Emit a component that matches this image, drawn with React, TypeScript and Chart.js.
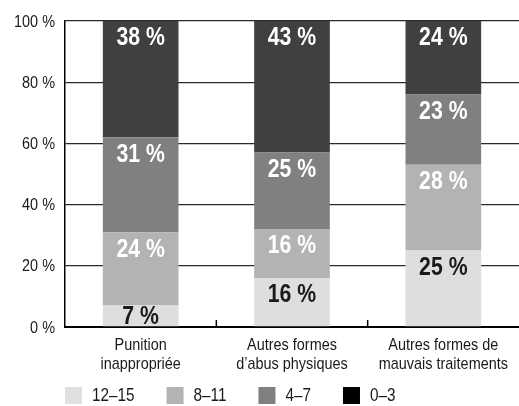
import React, { useEffect, useRef } from "react";
import { Chart, registerables } from "chart.js";

Chart.register(...registerables);

const categories: string[][] = [
  ["Punition", "inappropriée"],
  ["Autres formes", "d’abus physiques"],
  ["Autres formes de", "mauvais traitements"],
];
const seriesNames = ["12–15", "8–11", "4–7", "0–3"];
const age12to15 = [7, 16, 25];
const age8to11 = [24, 16, 28];
const age4to7 = [31, 25, 23];
const age0to3 = [38, 43, 24];
const yTicks = [0, 20, 40, 60, 80, 100];

const barColors = ["#dedede", "#b3b3b3", "#808080", "#404040"];
const legendColors = ["#e0e0e0", "#b3b3b3", "#808080", "#000000"];
const labelColors = ["#1a1a1a", "#ffffff", "#ffffff", "#ffffff"];
const FONT = "'Liberation Sans', Arial, sans-serif";
const SX = 0.85;

function drawText(ctx: CanvasRenderingContext2D, text: string, x: number, y: number, align: CanvasTextAlign) {
  ctx.save();
  ctx.translate(x, y);
  ctx.scale(SX, 1);
  ctx.textAlign = align;
  ctx.fillText(text, 0, 0);
  ctx.restore();
}

const decorPlugin = {
  id: "decor",
  afterDatasetsDraw(chart: any) {
    const ctx = chart.ctx;
    const area = chart.chartArea;
    const xScale = chart.scales.x;
    // data labels
    ctx.save();
    ctx.font = `bold 25px ${FONT}`;
    ctx.textBaseline = "middle";
    chart.data.datasets.forEach((ds: any, di: number) => {
      const meta = chart.getDatasetMeta(di);
      meta.data.forEach((el: any, i: number) => {
        const top = Math.min(el.y, el.base);
        const bottom = Math.max(el.y, el.base);
        const y = Math.min(top + 16.5, (top + bottom) / 2);
        ctx.fillStyle = labelColors[di];
        drawText(ctx, `${ds.data[i]} %`, el.x, y + 1, "center");
      });
    });
    ctx.restore();
    // category separator ticks
    ctx.save();
    ctx.strokeStyle = "#000";
    ctx.lineWidth = 1.5;
    for (let i = 0; i < categories.length - 1; i++) {
      const x = (xScale.getPixelForValue(i) + xScale.getPixelForValue(i + 1)) / 2;
      ctx.beginPath();
      ctx.moveTo(x, area.bottom);
      ctx.lineTo(x, area.bottom - 7);
      ctx.stroke();
    }
    ctx.restore();
  },
  afterDraw(chart: any) {
    const ctx = chart.ctx;
    const area = chart.chartArea;
    const xScale = chart.scales.x;
    const yScale = chart.scales.y;
    ctx.save();
    ctx.font = `17px ${FONT}`;
    ctx.textBaseline = "middle";
    ctx.fillStyle = "#1a1a1a";
    // y tick labels
    yTicks.forEach((v) => {
      drawText(ctx, `${v} %`, area.left - 10, yScale.getPixelForValue(v) + 1, "right");
    });
    // x category labels
    categories.forEach((lines, i) => {
      const x = xScale.getPixelForValue(i);
      lines.forEach((line, j) => {
        drawText(ctx, line, x, area.bottom + 18 + j * 19, "center");
      });
    });
    // legend
    ctx.font = `18px ${FONT}`;
    let x = area.left;
    const yc = 395;
    seriesNames.forEach((name, i) => {
      ctx.fillStyle = legendColors[i];
      ctx.fillRect(x, yc - 8, 17, 17);
      ctx.fillStyle = "#1a1a1a";
      const tx = x + 17 + 10;
      drawText(ctx, name, tx, yc + 1, "left");
      x = tx + ctx.measureText(name).width * SX + 32;
    });
    ctx.restore();
  },
};

export default function App() {
  const ref = useRef<HTMLCanvasElement | null>(null);
  useEffect(() => {
    if (!ref.current) return;
    const series = [age12to15, age8to11, age4to7, age0to3];
    const chart = new Chart(ref.current, {
      type: "bar",
      data: {
        labels: categories,
        datasets: series.map((d, i) => ({
          label: seriesNames[i],
          data: d,
          backgroundColor: barColors[i],
          borderWidth: 0,
          barPercentage: 0.5,
          categoryPercentage: 1,
        })),
      },
      options: {
        animation: false,
        responsive: false,
        maintainAspectRatio: false,
        layout: { padding: { top: 21, right: 0, left: 0, bottom: 0 } },
        plugins: {
          legend: { display: false },
          tooltip: { enabled: false },
        },
        scales: {
          x: {
            stacked: true,
            grid: { display: false, drawTicks: false },
            border: { display: true, color: "#000", width: 2 },
            ticks: { display: false },
            afterFit: (s: any) => {
              s.height = 79;
            },
          },
          y: {
            stacked: true,
            min: 0,
            max: 100,
            afterBuildTicks: (s: any) => {
              s.ticks = yTicks.map((v) => ({ value: v }));
            },
            grid: { color: "#2a2a2a", lineWidth: 1.3, drawTicks: false },
            border: { display: true, color: "#000", width: 1.5 },
            ticks: { display: false },
            afterFit: (s: any) => {
              s.width = 65;
            },
          },
        },
      },
      plugins: [decorPlugin],
    });
    return () => chart.destroy();
  }, []);
  return (
    <div style={{ position: "fixed", left: 0, top: 0, width: 519, height: 406, background: "#fff" }}>
      <canvas ref={ref} width={519} height={406} style={{ display: "block" }} />
    </div>
  );
}
